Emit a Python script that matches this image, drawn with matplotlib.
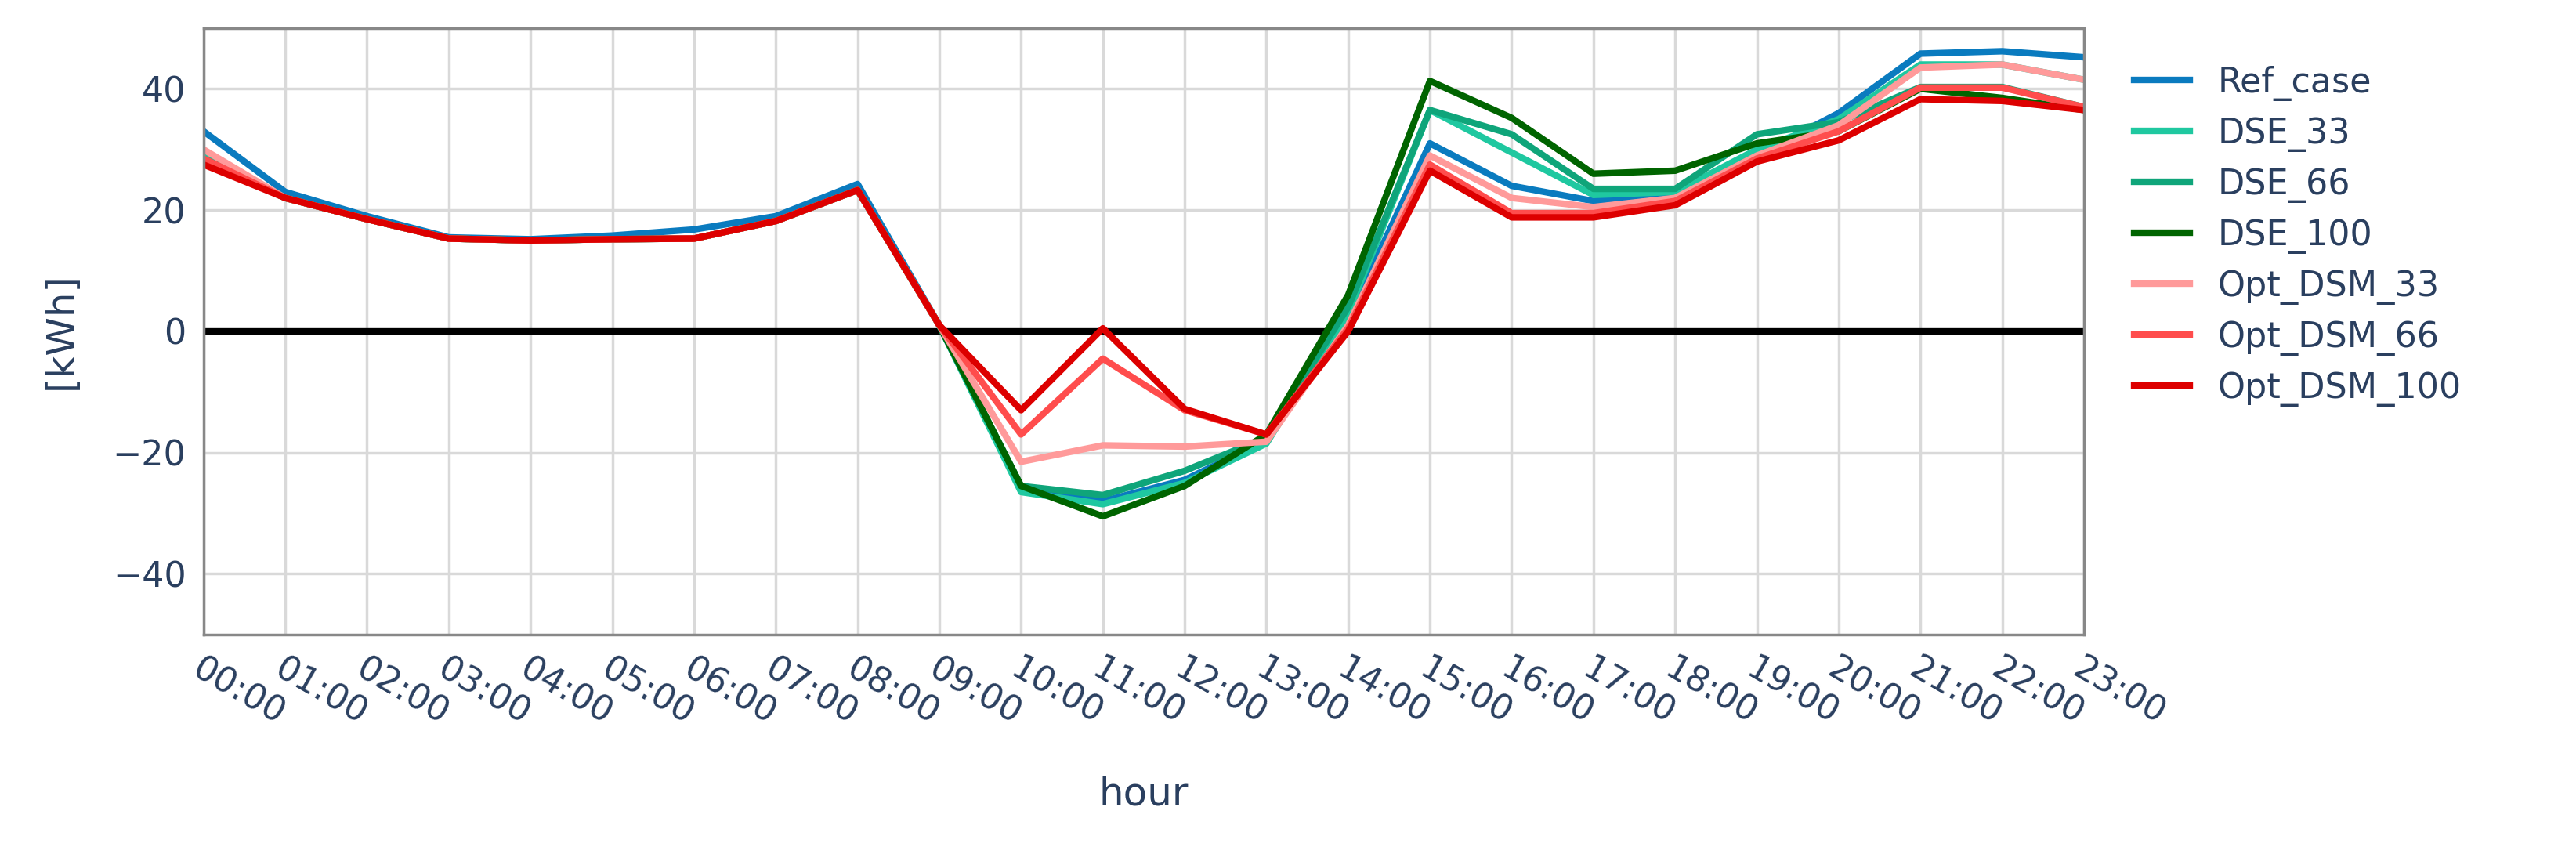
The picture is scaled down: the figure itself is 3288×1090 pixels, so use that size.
import matplotlib.pyplot as plt
import numpy as np

plt.rcParams["font.family"] = "DejaVu Sans"

hours = [f"{h:02d}:00" for h in range(24)]
early = [22, 18.5, 15.3, 15.0, 15.2, 15.3, 18.2, 23.3, 1.0]

ref_case = [33, 23, 19, 15.5, 15.2, 15.8, 16.8, 19, 24.3, 1, -26, -28, -24.5, -18, 2,
            31, 24, 21.5, 23, 29, 36, 45.8, 46.2, 45.2]
dse_33 = [29] + early + [-26.5, -28.5, -25, -18.5, 3, 36.5, 29.5, 22.5, 23, 30, 35, 44, 44, 41.5]
dse_66 = [28.5] + early + [-25.5, -27, -23, -17.5, 4, 36.5, 32.5, 23.5, 23.5, 32.5, 34.5, 40.3, 40.3, 37]
dse_100 = [28] + early + [-25.5, -30.5, -25.5, -17, 6, 41.3, 35.2, 26, 26.5, 31, 33, 40, 38.5, 36.5]
opt_33 = [30] + early + [-21.5, -18.8, -19, -18.2, 1, 29, 22, 20.5, 22, 29, 34, 43.5, 44, 41.5]
opt_66 = [28.5] + early + [-17, -4.5, -13, -17, 0.5, 27.5, 19.5, 19.5, 21.5, 28.5, 33, 40.2, 40.2, 37]
opt_100 = [27.5] + early + [-13, 0.5, -12.8, -17, 0, 26.5, 18.8, 18.8, 20.8, 28, 31.5, 38.3, 38, 36.5]

series = [("Ref_case", ref_case, "#0a7bbf"),
          ("DSE_33", dse_33, "#1fc8a0"),
          ("DSE_66", dse_66, "#0fa57a"),
          ("DSE_100", dse_100, "#006400"),
          ("Opt_DSM_33", opt_33, "#ff9a9a"),
          ("Opt_DSM_66", opt_66, "#ff4d4d"),
          ("Opt_DSM_100", opt_100, "#dd0000")]

txt = "#2a3f5f"
fig = plt.figure(figsize=(32.88, 10.9), dpi=100)
ax = fig.add_axes([0.079, 0.257, 0.73, 0.71])
x = np.arange(24)
ax.axhline(0, color="black", lw=6, zorder=1)
for name, vals, col in series:
    ax.plot(x, vals, color=col, lw=6, label=name, zorder=2)

ax.set_xlim(0, 23)
ax.set_ylim(-50, 50)
ax.set_yticks([-40, -20, 0, 20, 40])
ax.set_yticklabels(["\u221240", "\u221220", "0", "20", "40"])
ax.set_xticks(x)
ax.set_xticklabels(hours, rotation=-30, ha="left", rotation_mode="anchor")
ax.grid(color="#d9d9d9", lw=2.5)
ax.set_axisbelow(True)
for s in ax.spines.values():
    s.set_color("#888888")
    s.set_linewidth(2.5)
ax.tick_params(labelsize=32, colors=txt, length=0, pad=16)
ax.set_xlabel("hour", fontsize=36, color=txt, labelpad=40)
ax.set_ylabel("[kWh]", fontsize=36, color=txt, labelpad=30)
leg = ax.legend(loc="upper left", bbox_to_anchor=(1.01, 0.99), frameon=False,
                fontsize=32, handlelength=1.6, labelspacing=0.45)
for t in leg.get_texts():
    t.set_color(txt)
fig.savefig("out.png")
